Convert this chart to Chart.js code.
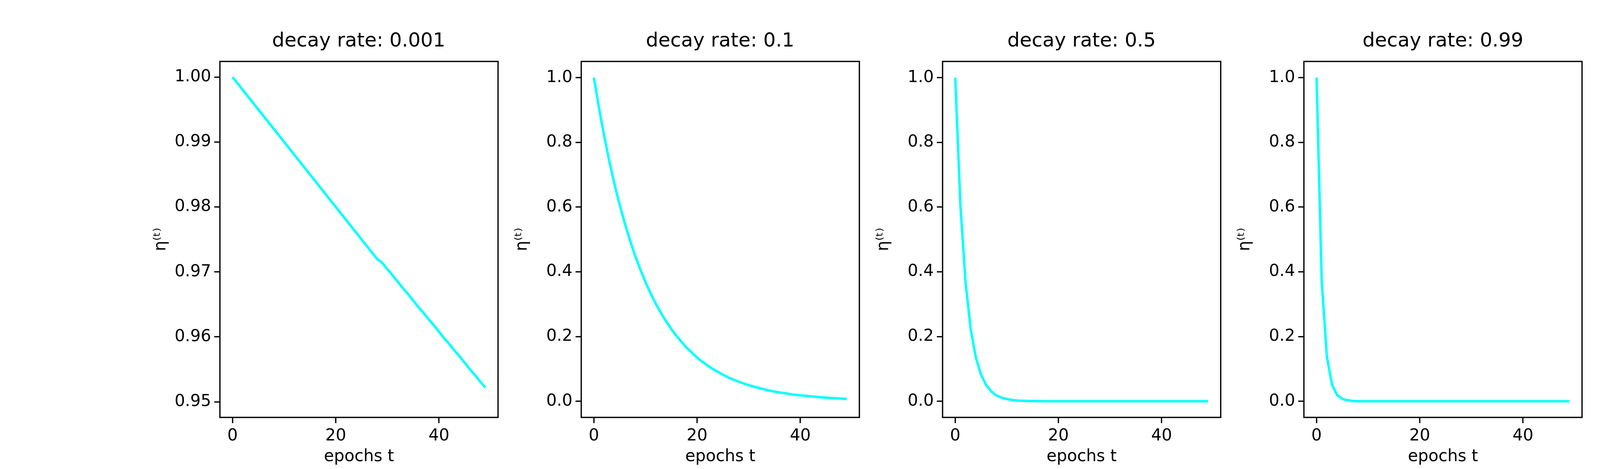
<!DOCTYPE html>
<html>
<head>
<meta charset="utf-8">
<script src="https://cdn.jsdelivr.net/npm/chart.js@4/dist/chart.umd.min.js"></script>
<style>
  body { margin: 0; background: #fff; }
  #fig { position: relative; width: 4500px; height: 1200px; background: #fff; }
  canvas { position: absolute; }
  .ttl { position: absolute; font-family: "DejaVu Sans"; font-size: 50px; text-align: center; line-height: 56px; color: #000; }
</style>
</head>
<body>
<div id="fig"></div>
<script>
(function () {
    'use strict';

    var decayRates = ['0.001', '0.1', '0.5', '0.99'];
    var epochs = [];
    for (var e = 0; e < 50; e++) epochs.push(e);

    // values
    var rate0001 = [1.000, .999, .998, .997, .996, .995, .994, .993, .992, .991,
        .990, .989, .988, .987, .986, .985, .984, .983, .982, .981,
        .980, .979, .978, .977, .976, .975, .974, .973, .972, .9714,
        .9704, .9695, .9685, .9675, .9666, .9656, .9646, .9637, .9627, .9618,
        .9608, .9598, .9589, .9579, .9570, .9560, .9550, .9541, .9531, .9522];
    var rate01 = [1.000, .905, .819, .741, .670, .607, .549, .497, .449, .407,
        .368, .333, .301, .273, .247, .223, .202, .183, .165, .150,
        .135, .122, .111, .100, .091, .082, .074, .067, .061, .055,
        .050, .045, .041, .037, .033, .030, .027, .025, .022, .020,
        .018, .017, .015, .014, .012, .011, .010, .009, .008, .007];
    var rate05 = [1.000, .607, .368, .223, .135, .082, .050, .030, .018, .011,
        .007, .004, .002, .0015, .001, .0006, .0003, .0002, .0001, 0,
        0, 0, 0, 0, 0, 0, 0, 0, 0, 0, 0, 0, 0, 0, 0, 0, 0, 0, 0, 0,
        0, 0, 0, 0, 0, 0, 0, 0, 0, 0];
    var rate099 = [1.000, .372, .138, .051, .019, .007, .003, .001, 0, 0,
        0, 0, 0, 0, 0, 0, 0, 0, 0, 0, 0, 0, 0, 0, 0, 0, 0, 0, 0, 0,
        0, 0, 0, 0, 0, 0, 0, 0, 0, 0, 0, 0, 0, 0, 0, 0, 0, 0, 0, 0];
    var series = [rate0001, rate01, rate05, rate099];

    var xTicks = [0, 20, 40];
    var yTicksFirst = [0.95, 0.96, 0.97, 0.98, 0.99, 1.00];
    var yTicksOther = [0, 0.2, 0.4, 0.6, 0.8, 1.0];

    var fig = document.getElementById('fig');
    var axW = 711.7, gap = 213.5, axL0 = 562.5, axTop = 144, axH = 924;
    var yW = 180, xH = 130;

    var frame = {
        id: 'frame',
        afterDraw: function (chart) {
            var a = chart.chartArea, c = chart.ctx;
            c.save();
            c.strokeStyle = '#000';
            c.lineWidth = 3.3;
            c.strokeRect(a.left, a.top, a.right - a.left, a.bottom - a.top);
            c.restore();
        }
    };

    series.forEach(function (vals, i) {
        var axL = axL0 + i * (axW + gap);
        var cv = document.createElement('canvas');
        var cw = Math.round(20 + yW + axW + 20), ch = 20 + axH + xH + 10;
        cv.width = cw; cv.height = ch;
        cv.style.left = (axL - yW - 20) + 'px';
        cv.style.top = (axTop - 20) + 'px';
        cv.style.width = cw + 'px';
        cv.style.height = ch + 'px';
        fig.appendChild(cv);

        var t = document.createElement('div');
        t.className = 'ttl';
        t.style.left = axL + 'px';
        t.style.width = axW + 'px';
        t.style.top = '74px';
        t.textContent = 'decay rate: ' + decayRates[i];
        fig.appendChild(t);

        var first = i === 0;
        var yMin = first ? 0.9476 : -0.05, yMax = first ? 1.0024 : 1.05;
        var yT = first ? yTicksFirst : yTicksOther;

        new Chart(cv, {
            type: 'line',
            data: {
                datasets: [{
                    data: epochs.map(function (x, k) { return {x: x, y: vals[k]}; }),
                    borderColor: '#00ffff',
                    borderWidth: 6.25,
                    pointRadius: 0,
                    fill: false,
                    tension: 0
                }]
            },
            options: {
                responsive: false,
                animation: false,
                devicePixelRatio: 1,
                layout: {padding: {left: 20, top: 20, right: 20, bottom: 10}},
                plugins: {legend: {display: false}, tooltip: {enabled: false}},
                scales: {
                    x: {
                        type: 'linear', min: -2.45, max: 51.45,
                        afterBuildTicks: function (s) { s.ticks = xTicks.map(function (v) { return {value: v}; }); },
                        afterFit: function (s) { s.height = xH; },
                        grid: {drawOnChartArea: false, tickLength: 14.6, tickWidth: 3.3, tickColor: '#000'},
                        border: {display: false},
                        ticks: {color: '#000', font: {family: 'DejaVu Sans', size: 42}, padding: 8, maxRotation: 0},
                        title: {display: true, text: 'epochs t', color: '#000', font: {family: 'DejaVu Sans', size: 42}, padding: {top: 6}}
                    },
                    y: {
                        min: yMin, max: yMax,
                        afterBuildTicks: function (s) { s.ticks = yT.map(function (v) { return {value: v}; }); },
                        afterFit: function (s) { s.width = yW; },
                        grid: {drawOnChartArea: false, tickLength: 14.6, tickWidth: 3.3, tickColor: '#000'},
                        border: {display: false},
                        ticks: {
                            color: '#000', font: {family: 'DejaVu Sans', size: 42}, padding: 8,
                            callback: function (v) { return v.toFixed(first ? 2 : 1); }
                        },
                        title: {display: true, text: 'η⁽ᵗ⁾', color: '#000', font: {family: 'DejaVu Sans', size: 42}, padding: {bottom: 6}}
                    }
                }
            },
            plugins: [frame]
        });
    });
})();
</script>
</body>
</html>
